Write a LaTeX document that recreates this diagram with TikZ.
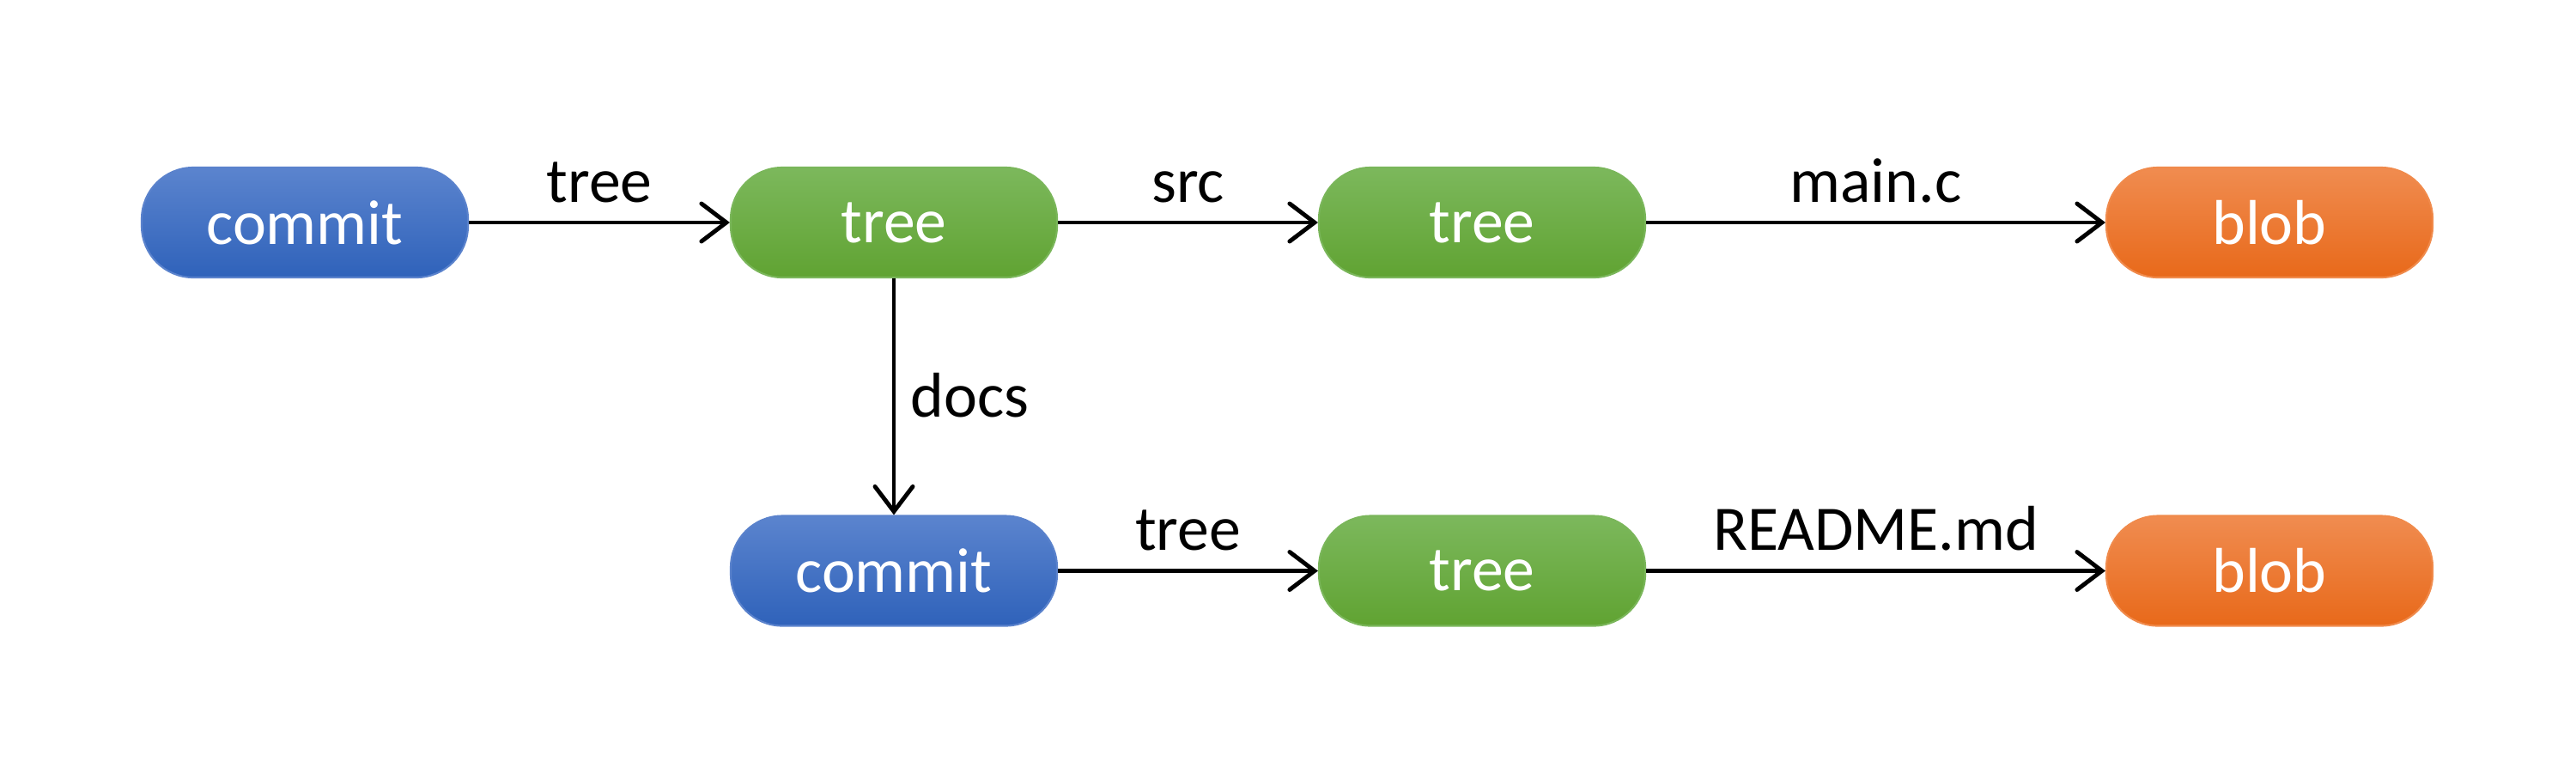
\documentclass[tikz,border=0pt]{standalone}
\usepackage{fontspec}
\setmainfont{Carlito}
\usetikzlibrary{arrows.meta}
\definecolor{bluetop}{HTML}{5B84CE}
\definecolor{bluebot}{HTML}{2F62BA}
\definecolor{blueedge}{HTML}{5A82CC}
\definecolor{greentop}{HTML}{7CB85C}
\definecolor{greenbot}{HTML}{60A332}
\definecolor{greenedge}{HTML}{7AB65A}
\definecolor{orangetop}{HTML}{F08C50}
\definecolor{orangebot}{HTML}{E8691A}
\definecolor{orangeedge}{HTML}{F08A4B}
\tikzset{
  objbox/.style={rounded corners=0.6cm, minimum width=3.8cm, minimum height=1.28cm,
    inner sep=0pt, text=white, font=\fontsize{21}{25}\selectfont},
  commitbox/.style={objbox, draw=blueedge, line width=0.6pt, top color=bluetop, bottom color=bluebot},
  treebox/.style={objbox, draw=greenedge, line width=0.6pt, top color=greentop, bottom color=greenbot},
  blobbox/.style={objbox, draw=orangeedge, line width=0.6pt, top color=orangetop, bottom color=orangebot},
  arr/.style={line width=1.4pt, -{Straight Barb[length=2.9mm,width=4.4mm,line cap=round]}},
  lbl/.style={font=\fontsize{21}{25}\selectfont, anchor=base, yshift=0.24cm, inner sep=0pt},
  vlbl/.style={font=\fontsize{21}{25}\selectfont, anchor=base west, xshift=0.17cm, yshift=-0.24cm, inner sep=0pt}
}
\begin{document}
\begin{tikzpicture}
\useasboundingbox (0,0) rectangle (30,-9);
\node[commitbox] (c1) at (3.55,-2.59) {commit};
\node[treebox] (t1) at (10.41,-2.59) {tree};
\node[treebox] (t2) at (17.26,-2.59) {tree};
\node[blobbox] (b1) at (26.43,-2.59) {blob};
\node[commitbox] (c2) at (10.41,-6.645) {commit};
\node[treebox] (t3) at (17.26,-6.645) {tree};
\node[blobbox] (b2) at (26.43,-6.645) {blob};
\draw[arr] (c1) -- node[lbl] {tree} (t1);
\draw[arr] (t1) -- node[lbl] {src} (t2);
\draw[arr] (t2) -- node[lbl] {main.c} (b1);
\draw[arr] (t1) -- node[vlbl] {docs} (c2);
\draw[arr] (c2) -- node[lbl] {tree} (t3);
\draw[arr] (t3) -- node[lbl] {README.md} (b2);
\end{tikzpicture}
\end{document}
